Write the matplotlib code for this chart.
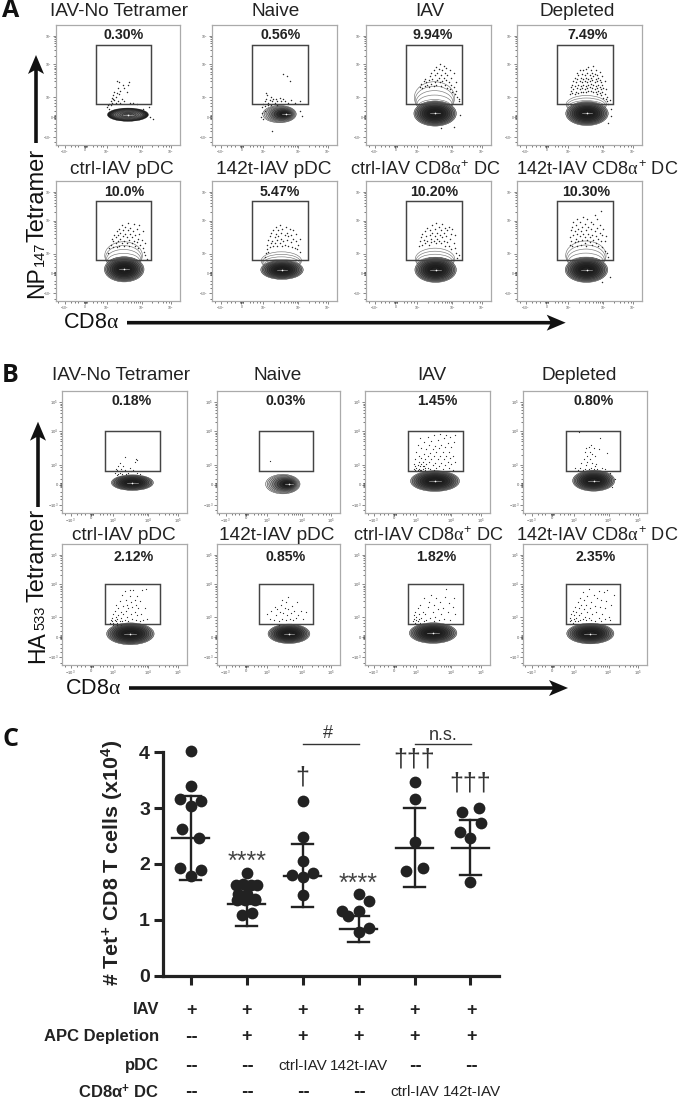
import matplotlib
matplotlib.use("Agg")
import matplotlib.pyplot as plt
from matplotlib.patches import Ellipse, Polygon, Rectangle
import numpy as np

plt.rcParams['font.family'] = ['Liberation Sans', 'DejaVu Sans']
plt.rcParams['mathtext.fontset'] = 'custom'
plt.rcParams['mathtext.rm'] = 'Liberation Sans'
plt.rcParams['mathtext.bf'] = 'Liberation Sans:bold'
plt.rcParams['mathtext.it'] = 'Liberation Serif'

W, H = 680, 1100

# ---------- flow panel content (axis units: 0-100 of the biexponential scale) ----------
flow_titles = ['IAV-No Tetramer', 'Naive', 'IAV', 'Depleted', 'ctrl-IAV pDC', '142t-IAV pDC',
               'ctrl-IAV CD8$\\alpha^{+}$ DC', '142t-IAV CD8$\\alpha^{+}$ DC']
pct_A = ['0.30%', '0.56%', '9.94%', '7.49%', '10.0%', '5.47%', '10.20%', '10.30%']
pct_B = ['0.18%', '0.03%', '1.45%', '0.80%', '2.12%', '0.85%', '1.82%', '2.35%']
gate_A = (32, 77, 34, 83)
gate_B = (34.5, 78, 34, 67)
x_ticks_flow = [7, 23.5, 41, 69, 92.5]
x_tick_labels = ['$-10^{3}$', '0', '$10^{3}$', '$10^{4}$', '$10^{5}$']
y_ticks_flow = [6.5, 23, 39.5, 67, 90.7]
y_tick_labels = ['$-10^{3}$', '0', '$10^{3}$', '$10^{4}$', '$10^{5}$']

# population centre x, y, half-width, half-height, shoulder top, core shift
blob_A = [(58, 25, 16.5, 5.5, 0, 0), (54, 25.5, 13.4, 7.2, 0, 5), (55.3, 26, 17, 10.5, 52.5, 0),
          (56, 26, 17, 10, 41, 0), (55, 26.4, 16, 10.5, 49.4, 0), (56, 26, 17, 8, 41, 0),
          (55.7, 26, 16.6, 10.5, 44, 0), (55.6, 26, 17, 10.5, 50, 0)]
blob_B = [(56.3, 24.7, 16.8, 6.4, 0, 0), (53.5, 23.5, 14, 8, 0, 5), (56, 26, 19.6, 8.5, 0, 0),
          (57, 26.3, 17, 8.6, 0, 0), (54.7, 25.8, 19, 9, 0, 0), (58.5, 25.8, 17, 8, 0, 0),
          (54.5, 26.4, 19, 8.5, 0, 0), (54.3, 26, 19, 8.5, 0, 0)]

A_notet = [(43,34),(44,36),(42,33),(46,38),(45,35),(47,37),(48,40),(46,41),(49,43),(50,36),(44,33),(48,35),
           (51,42),(50,47),(52,45),(53,38),(55,47),(54,50),(49,53),(51,52),(58,50),(57,44),(59,52),(55,36),
           (60,35),(62,35),(65,34),(45,39),(47,44),(52,35),(41,31),(43,30),(70,30),(75,31),(76,23),(78,21)]
A_naive = [(41,34),(42,36),(43,38),(44,41),(43,43),(45,35),(46,37),(47,40),(48,36),(49,38),(50,35),(51,38),
           (52,36),(54,39),(55,36),(57,38),(58,36),(61,35),(63,37),(66,35),(70,36),(57,59),(62,53),(60,57),
           (48,11),(45,33),(47,33),(52,33),(42,32),(40,31),(42,28),(70,28),(72,24),(40,26),(39,23),(41,21)]
A_iav = [(43,48),(44,51),(45,47),(46,53),(47,49),(47,55),(48,52),(49,50),(50,48),(50,54),(51,57),(52,51),
         (52,60),(53,55),(54,49),(54,62),(55,52),(55,58),(56,50),(56,65),(57,54),(57,60),(58,56),(58,63),
         (59,52),(59,67),(60,58),(60,49),(61,62),(61,53),(62,56),(62,66),(63,50),(63,60),(64,54),(64,64),
         (65,47),(65,58),(66,52),(67,46),(67,62),(68,50),(68,56),(69,44),(70,48),(70,60),(71,42),(72,52),
         (72,45),(73,40),(74,36),(74,38),(70,15),(60,14),(75,25)]
A_dep = [(42,42),(43,45),(43,48),(44,43),(44,50),(45,46),(45,53),(46,42),(46,49),(46,56),(47,44),(47,52),
         (48,47),(48,55),(48,60),(49,43),(49,50),(49,58),(50,46),(50,53),(50,62),(51,44),(51,49),(51,56),
         (52,47),(52,52),(52,59),(53,44),(53,50),(53,55),(53,62),(54,46),(54,53),(54,58),(55,44),(55,49),
         (55,56),(55,63),(56,47),(56,52),(56,60),(57,45),(57,50),(57,55),(57,65),(58,48),(58,53),(58,58),
         (59,45),(59,51),(59,56),(59,62),(60,47),(60,54),(60,60),(61,44),(61,50),(61,57),(61,66),(62,46),
         (62,52),(62,59),(63,44),(63,49),(63,55),(63,62),(64,42),(64,47),(64,53),(64,58),(65,45),(65,50),
         (65,56),(66,43),(66,48),(66,54),(66,61),(67,41),(67,46),(67,52),(68,44),(68,50),(68,57),(69,39),
         (69,47),(70,42),(70,53),(71,38),(71,46),(72,40),(72,36),(73,34),(74,37),(75,30),(75,24),(73,18)]
A_ctrl_pdc = [(43,44),(44,47),(45,52),(46,45),(46,50),(47,55),(48,48),(48,53),(49,45),(49,58),(50,50),(50,55),
              (51,46),(51,60),(52,52),(52,57),(53,48),(53,63),(54,54),(54,59),(55,46),(55,50),(56,56),(56,62),
              (57,48),(57,53),(58,59),(58,65),(59,51),(59,46),(60,56),(60,61),(61,48),(61,53),(62,58),(63,50),
              (63,64),(64,46),(64,55),(65,60),(65,49),(66,52),(66,44),(67,56),(67,63),(68,47),(69,51),(70,44),
              (70,58),(71,41),(72,48),(72,38),(73,35),(42,40)]
A_142_pdc = [(42,37),(43,40),(44,43),(44,47),(45,41),(45,51),(46,45),(46,54),(47,48),(47,57),(48,50),(49,46),
             (49,59),(50,53),(50,48),(51,56),(51,62),(52,46),(52,51),(53,59),(53,54),(54,48),(54,63),(55,52),
             (55,57),(56,46),(56,60),(57,50),(58,55),(58,47),(59,62),(60,51),(60,57),(61,46),(61,54),(62,60),
             (63,49),(63,55),(64,45),(65,52),(65,59),(66,44),(67,50),(67,56),(68,43),(69,47),(70,52),(70,41)]
A_ctrl_cd8 = [(42,46),(43,50),(44,53),(45,47),(45,56),(46,51),(47,48),(47,58),(48,54),(49,50),(49,61),(50,47),
              (51,55),(51,59),(52,49),(52,52),(53,57),(53,63),(54,50),(55,54),(55,60),(56,48),(56,65),(57,52),
              (57,57),(58,50),(58,62),(59,55),(60,48),(60,59),(61,53),(61,64),(62,50),(62,57),(63,61),(63,46),
              (64,54),(65,49),(65,59),(66,62),(66,46),(67,52),(68,56),(68,43),(69,60),(70,48),(71,44),(71,55),
              (72,40),(73,36),(74,38)]
A_142_cd8 = [(42,47),(42,53),(43,59),(43,50),(44,62),(44,46),(45,55),(45,66),(46,49),(46,58),(47,52),(47,63),
             (48,46),(48,56),(48,68),(49,50),(49,60),(50,54),(50,66),(51,47),(51,58),(52,51),(52,62),(53,56),
             (53,70),(54,48),(54,53),(54,64),(55,59),(55,46),(56,51),(56,68),(57,56),(57,62),(58,49),(58,53),
             (59,60),(59,66),(60,47),(60,55),(61,64),(61,51),(62,58),(62,72),(63,48),(63,54),(64,61),(64,68),
             (65,46),(65,52),(66,57),(66,63),(67,50),(67,75),(68,45),(68,55),(69,60),(70,42),(70,50),(71,54),
             (72,40),(73,37),(74,20),(68,16)]
B_notet = [(42,33),(43,36),(44,31),(45,38),(44,35),(46,33),(47,36),(48,34),(46,41),(50,35),(51,32),(49,38),
           (50,46),(54,37),(55,34),(58,42),(59,44),(60,33),(57,35),(53,33),(45,32),(48,32),(60,43),(62,32)]
B_naive = [(43,42.5)]
B_iav = [(39,36),(39,40),(40,35),(40,44),(41,37),(41,50),(42,35),(42,39),(42,56),(43,36),(43,42),(43,47),
         (44,35),(44,38),(44,61),(45,40),(45,45),(45,53),(46,36),(46,42),(47,38),(47,48),(47,58),(48,35),
         (48,44),(49,40),(49,52),(50,37),(50,47),(50,62),(51,42),(51,56),(52,36),(52,49),(53,44),(53,59),
         (54,39),(54,52),(55,35),(55,47),(55,64),(56,41),(56,55),(57,37),(57,50),(58,44),(58,60),(59,38),
         (59,53),(60,47),(60,65),(61,41),(61,56),(62,36),(62,50),(63,44),(63,61),(64,39),(64,54),(65,47),
         (65,64),(66,42),(66,57),(67,37),(67,50),(68,45),(68,62),(69,40),(69,54),(70,35),(70,47),(71,58),
         (72,42),(72,64),(40,38),(41,34.5),(43,34.5),(45,35),(46,38),(48,37)]
B_dep = [(42,37),(44,35),(46,37),(47,41),(48,35),(49,44),(50,36),(50,50),(51,39),(51,53),(52,47),(52,42),
         (53,54),(53,36),(54,50),(54,44),(55,56),(55,37),(56,48),(56,41),(57,53),(57,36),(58,47),(58,38),
         (59,40),(60,36),(61,52),(62,61),(64,37),(68,49),(45,66),(66,36),(70,33),(74,28),(72,21)]
B_ctrl_pdc = [(38,35),(39,37),(40,36),(40,39),(41,35),(41,42),(42,37),(42,45),(43,36),(43,40),(43,50),(44,35),
              (44,38),(45,41),(45,47),(46,36),(46,53),(47,39),(47,44),(48,36),(48,58),(49,42),(49,49),(50,37),
              (50,61),(51,45),(51,54),(52,40),(52,50),(53,36),(53,47),(54,57),(54,62),(55,42),(55,52),(56,38),
              (56,48),(57,62),(58,44),(58,54),(59,37),(59,50),(60,57),(60,41),(61,47),(62,36),(62,53),(63,42),
              (64,62),(65,37),(66,47),(67,63),(68,38),(41,33),(44,33),(47,33)]
B_142_pdc = [(41,42),(43,38),(44,45),(46,37),(47,48),(48,41),(49,46),(50,36),(51,44),(52,50),(53,38),(53,54),
             (54,43),(55,47),(56,37),(56,52),(57,41),(58,56),(58,46),(59,38),(60,43),(61,49),(62,37),(63,45),
             (64,39),(65,52),(66,41),(68,45),(70,38),(72,44),(60,34),(50,33)]
B_ctrl_cd8 = [(38,36),(39,38),(39,41),(40,35),(40,44),(41,37),(41,40),(42,36),(42,47),(43,38),(43,42),(44,35),
              (44,50),(45,39),(46,44),(47,36),(47,55),(48,42),(49,37),(50,48),(51,52),(52,39),(53,58),(54,44),
              (55,36),(55,50),(56,40),(57,55),(58,46),(59,37),(60,52),(61,42),(62,47),(63,38),(64,56),(65,63),
              (66,44),(67,51),(68,37),(70,48),(71,55),(72,42)]
B_142_cd8 = [(38,36),(38,39),(39,42),(39,37),(40,35),(40,45),(41,38),(41,41),(42,36),(42,48),(43,39),(43,44),
             (44,36),(44,52),(45,41),(45,47),(46,37),(46,55),(47,43),(47,50),(48,38),(48,60),(49,46),(49,54),
             (50,40),(51,37),(51,50),(52,44),(52,57),(53,39),(53,63),(54,47),(55,52),(55,37),(56,42),(57,58),
             (58,36),(58,49),(59,44),(60,55),(61,39),(61,61),(62,48),(63,36),(63,54),(64,42),(65,60),(66,38),
             (66,47),(67,53),(68,62),(69,40),(70,37),(71,50),(73,58)]

dots_A = [A_notet, A_naive, A_iav, A_dep, A_ctrl_pdc, A_142_pdc, A_ctrl_cd8, A_142_cd8]
dots_B = [B_notet, B_naive, B_iav, B_dep, B_ctrl_pdc, B_142_pdc, B_ctrl_cd8, B_142_cd8]

# ---------- panel C data ----------
g1_y = [4.03, 3.40, 3.16, 3.12, 3.03, 2.63, 2.46, 1.92, 1.89, 1.78]
g1_dx = [0, 0, -.19, .19, 0, -.15, .15, -.19, .19, 0]
g2_y = [1.84, 1.62, 1.64, 1.62, 1.62, 1.47, 1.47, 1.38, 1.35, 1.35, 1.35, 1.09, 1.13]
g2_dx = [0, -.19, -.07, .07, .19, -.15, 0, .15, -.18, -.03, .15, -.09, .09]
g3_y = [3.12, 2.48, 2.06, 1.81, 1.83, 1.76, 1.44]
g3_dx = [0, 0, 0, -.19, .19, 0, 0]
g4_y = [1.47, 1.33, 1.15, 1.07, 1.15, .85, .79]
g4_dx = [0, .19, -.29, -.18, 0, .19, 0]
g5_y = [3.47, 3.16, 2.39, 1.93, 1.88]
g5_dx = [0, 0, 0, .15, -.15]
g6_y = [2.94, 3.01, 2.74, 2.58, 2.47, 1.67]
g6_dx = [-.15, .15, .19, -.19, 0, 0]
group_y = [g1_y, g2_y, g3_y, g4_y, g5_y, g6_y]
group_dx = [g1_dx, g2_dx, g3_dx, g4_dx, g5_dx, g6_dx]
means = [2.47, 1.28, 1.79, .84, 2.29, 2.29]
err_top = [3.21, 1.68, 2.36, 1.07, 3.00, 2.78]
err_bot = [1.72, .89, 1.23, .60, 1.58, 1.80]
row_labels = ['IAV', 'APC Depletion', 'pDC', 'CD8$\\mathregular{\\alpha}^{\\mathbf{+}}$ DC']
row_iav = ['+', '+', '+', '+', '+', '+']
row_apc = ['--', '+', '+', '+', '+', '+']
row_pdc = ['--', '--', 'ctrl-IAV', '142t-IAV', '--', '--']
row_cd8 = ['--', '--', '--', '--', 'ctrl-IAV', '142t-IAV']
table_rows = [row_iav, row_apc, row_pdc, row_cd8]
y_labels_c = ['0', '1', '2', '3', '4']

# ---------- helpers ----------
fig = plt.figure(figsize=(W / 100, H / 100), dpi=100, facecolor='white')

def axpx(x0, y0, x1, y1, **kw):
    return fig.add_axes([x0 / W, 1 - y1 / H, (x1 - x0) / W, (y1 - y0) / H], **kw)

scales = [1, .93, .86, .78, .70, .61, .51, .40, .28, .16]
gray_norm = ['#9a9a9a', '#808080', '#686868', '#525252', '#404040', '#303030', '#262626', '#1e1e1e', '#1a1a1a', '#222222']
gray_ring = ['#1c1c1c', '#222222', '#333333', '#4c4c4c', '#666666', '#707070', '#6c6c6c', '#606060', '#555555', '#4a4a4a']
gray_light = ['#e2e2e2', '#cfcfcf', '#b8b8b8', '#9a9a9a', '#7c7c7c', '#5c5c5c', '#404040', '#2a2a2a', '#1c1c1c', '#222222']

def flow_panel(box, gate, blob, dots, pct, pct_xy, tick_fs, style, dot_size):
    ax = axpx(*box)
    ax.set_xlim(0, 100); ax.set_ylim(0, 100)
    for s in ax.spines.values():
        s.set_color('#aaaaaa'); s.set_linewidth(0.9)
    cx, cy, rx, ry, top, shift = blob
    if top:
        for i, frac in enumerate([1, .86, .72, .58, .44, .3]):
            t = cy + (top - cy) * frac
            f = 1 - .045 * i
            ax.add_patch(Ellipse((cx - .5, (t + cy) / 2), 2 * rx * .95 * f, t - cy,
                                 fc='white', ec='#777777', lw=.45, zorder=2))
    palette = {'norm': gray_norm, 'ring': gray_ring, 'light': gray_light}[style]
    for k, g in zip(scales, palette):
        ax.add_patch(Ellipse((cx + shift * (1 - k), cy), 2 * rx * k, 2 * ry * k,
                             fc=g, ec='#222222', lw=.3, zorder=3))
    ax.plot([cx + shift - rx * .25, cx + shift + rx * .25], [cy, cy], color='#bbbbbb', lw=.4, zorder=4)
    ax.plot([cx + shift], [cy], 'o', ms=1.2, color='white', mew=0, zorder=4)
    if dots:
        d = np.array(dots)
        ax.scatter(d[:, 0], d[:, 1], s=dot_size, color='#2a2a2a', marker='o', linewidths=0, zorder=5, snap=False)
    x0, x1, y0, y1 = gate
    ax.add_patch(Rectangle((x0, y0), x1 - x0, y1 - y0, fill=False, ec='#444444', lw=1.05, zorder=6))
    ax.text(pct_xy[0], pct_xy[1], pct, ha='center', va='center', fontsize=10.2, fontweight='bold',
            color='#222222', zorder=7)
    ax.set_xticks(x_ticks_flow, x_tick_labels)
    ax.set_yticks(y_ticks_flow, y_tick_labels)
    minor_x = [2, 12, 15, 18, 22.4, 22.9, 23.4, 23.9, 24.4, 24.9, 30, 33, 36, 38, 49.4, 54.4, 57.9, 60.6, 62.8, 64.6, 66.2, 67.7,
               77.4, 82.4, 85.9, 88.6, 90.8]
    minor_y = [2, 11, 14, 17, 21.5, 22, 22.5, 23, 23.5, 24, 24.5, 28, 32, 35, 37.5, 47.8, 52.7, 56, 58.7, 60.9, 62.7, 64.3, 65.7,
               74.2, 78.8, 82, 84.5, 86.7, 88.5, 89.7]
    ax.set_xticks(minor_x, minor=True); ax.set_yticks(minor_y, minor=True)
    ax.tick_params(which='major', length=2, width=.5, color='#555555', labelsize=tick_fs,
                   labelcolor='#555555', pad=.6)
    ax.tick_params(which='minor', length=1.2, width=.5, color='#444444')
    return ax

col_A = [(56, 180), (212, 337), (366, 491), (517, 642)]
col_B = [(62, 187), (217, 340), (365, 490), (523, 647)]
pct_x_A = [54.8, 54.7, 53.4, 56.3, 55.3, 54.6, 54.8, 55.7]
pct_x_B = [56, 56, 57.9, 57, 57.3, 56, 56.7, 58.3]
for i in range(8):
    r, c = divmod(i, 4)
    y0, y1 = [(24.7, 144.7), (181, 301)][r]
    xa = col_A[c]
    style = 'ring' if i == 0 else ('light' if i == 1 else 'norm')
    flow_panel((xa[0], y0, xa[1], y1), gate_A, blob_A[i], dots_A[i], pct_A[i], (pct_x_A[i], 91.2), 2.4, style, 1.1)
    y0, y1 = [(391, 512.7), (544, 665)][r]
    xb = col_B[c]
    flow_panel((xb[0], y0, xb[1], y1), gate_B, blob_B[i], dots_B[i], pct_B[i], (pct_x_B[i], [92, 89.5][r]),
               3.0, 'light' if i == 1 else 'norm', .8)

# ---------- panel C ----------
axc = axpx(163.3, 752.3, 499, 975.7)
axc.set_xlim(.51, 6.51); axc.set_ylim(0, 4)
axc.patch.set_alpha(0)
for s in ['top', 'right']:
    axc.spines[s].set_visible(False)
for s in ['left', 'bottom']:
    axc.spines[s].set_linewidth(2.3); axc.spines[s].set_color('#222222')
axc.set_xticks(range(1, 7), [''] * 6)
axc.set_yticks(range(5), y_labels_c)
axc.tick_params(axis='both', length=6.5, width=2.2, color='#222222')
axc.tick_params(axis='y', labelsize=14, pad=3, labelcolor='#222222')
for t in axc.get_yticklabels():
    t.set_fontweight('bold')
for i in range(6):
    x = i + 1
    axc.scatter(x + np.array(group_dx[i]), group_y[i], s=72, color='#222222', linewidths=0, zorder=4, clip_on=False)
    axc.plot([x, x], [err_bot[i], err_top[i]], color='#222222', lw=1.7, zorder=3)
    axc.plot([x - .19, x + .19], [err_top[i]] * 2, color='#222222', lw=1.7, zorder=3)
    axc.plot([x - .19, x + .19], [err_bot[i]] * 2, color='#222222', lw=1.7, zorder=3)
    axc.plot([x - .33, x + .33], [means[i]] * 2, color='#222222', lw=1.7, zorder=3)

# ---------- overlay in pixel coordinates ----------
ov = fig.add_axes([0, 0, 1, 1], facecolor='none')
ov.set_xlim(0, W); ov.set_ylim(H, 0); ov.axis('off')

def arrow(x0, y0, x1, y1, shaft=3.6, hw=8, hl=19, notch=3.5):
    d = np.array([x1 - x0, y1 - y0], float); L = np.hypot(*d); d /= L
    n = np.array([-d[1], d[0]])
    p0 = np.array([x0, y0], float); p1 = np.array([x1, y1], float)
    base = p1 - d * hl
    inner = base + d * notch
    pts = [p0 + n * shaft / 2, inner + n * shaft / 2, base + n * hw, p1, base - n * hw, inner - n * shaft / 2, p0 - n * shaft / 2]
    ov.add_patch(Polygon(pts, closed=True, fc='#111111', ec='none', zorder=10))

def vtext(x, y, s, fs):
    ov.text(x, y, s, rotation=90, rotation_mode='anchor', ha='left', va='baseline', fontsize=fs, color='#111111')

title_xy = [(118.7, 11), (275.7, 11), (429.5, 11), (577, 11), (121.7, 169), (274, 169), (426, 169), (596.7, 169),
            (121, 376), (277.7, 376), (432, 376), (579, 376), (123.7, 535), (276.7, 535), (428.7, 535), (597, 535)]
for i, (x, y) in enumerate(title_xy):
    ov.text(x, y, flow_titles[i % 8], ha='center', va='center', fontsize=13.1 if i % 8 >= 6 else 13.7, color='#222222')

for lab, y in zip('ABC', [10.5, 376, 740]):
    ov.text(2, y, lab, fontsize=18, fontweight='bold', family='Open Sans', va='center', color='#111111')

vtext(43.5, 298, 'NP', 16.5); vtext(43.5, 266, '147', 10.5); vtext(43.5, 242.5, 'Tetramer', 17)
arrow(36, 143, 36, 55)
ov.text(63, 323, 'CD8$\\alpha$', ha='left', va='center', fontsize=15.5, color='#111111')
arrow(127, 322.7, 565.7, 322.7)
vtext(44, 663, 'HA', 16.5); vtext(44, 630, '533', 10.5); vtext(44, 602, 'Tetramer', 17)
arrow(38, 507, 38, 421.7)
ov.text(65, 688, 'CD8$\\alpha$', ha='left', va='center', fontsize=15.5, color='#111111')
arrow(129, 688, 568, 688)

ov.text(112.7, 863, '# Tet$^{\\mathbf{+}}$ CD8 T cells (x10$^{\\mathbf{4}}$)', rotation=90, ha='center', va='center',
        fontsize=15.4, fontweight='bold', color='#222222')

# significance marks
col_px = [190.7, 246.7, 302.3, 358.3, 414.3, 470.3]
ov.text(col_px[1], 862, '****', ha='center', va='center', fontsize=18, color='#444444')
ov.text(col_px[3], 884, '****', ha='center', va='center', fontsize=18, color='#444444')
ov.text(col_px[2], 778, '\u2020', ha='center', va='center', fontsize=18, color='#333333')
ov.text(col_px[4], 760, '\u2020\u2020\u2020', ha='center', va='center', fontsize=18, color='#333333')
ov.text(col_px[5], 784, '\u2020\u2020\u2020', ha='center', va='center', fontsize=18, color='#333333')
ov.plot([302.7, 358.7], [744.3, 744.3], color='#333333', lw=1)
ov.plot([414.7, 470.7], [744.3, 744.3], color='#333333', lw=1)
ov.text(328, 734, '#', ha='center', va='center', fontsize=13, color='#333333')
ov.text(443, 735, 'n.s.', ha='center', va='center', fontsize=13, color='#333333')

# treatment table
row_y = [1010, 1036.7, 1065.7, 1091.5]
table_x = [191.7, 247, 303, 359, 415, 471.7]
for lab, y, row in zip(row_labels, row_y, table_rows):
    ov.text(159.3, y, lab, ha='right', va='center', fontsize=12, fontweight='bold', color='#222222')
    for x, v in zip(table_x, row):
        if v == '+':
            ov.text(x, y, v, ha='center', va='center', fontsize=13, fontweight='bold', color='#222222')
        elif v == '--':
            ov.text(x, y, v, ha='center', va='center', fontsize=11, fontweight='bold',
                    family='DejaVu Sans', color='#222222')
        else:
            ov.text(x, y, v, ha='center', va='center', fontsize=11, color='#222222')

fig.savefig('out.png', dpi=100, facecolor='white')
